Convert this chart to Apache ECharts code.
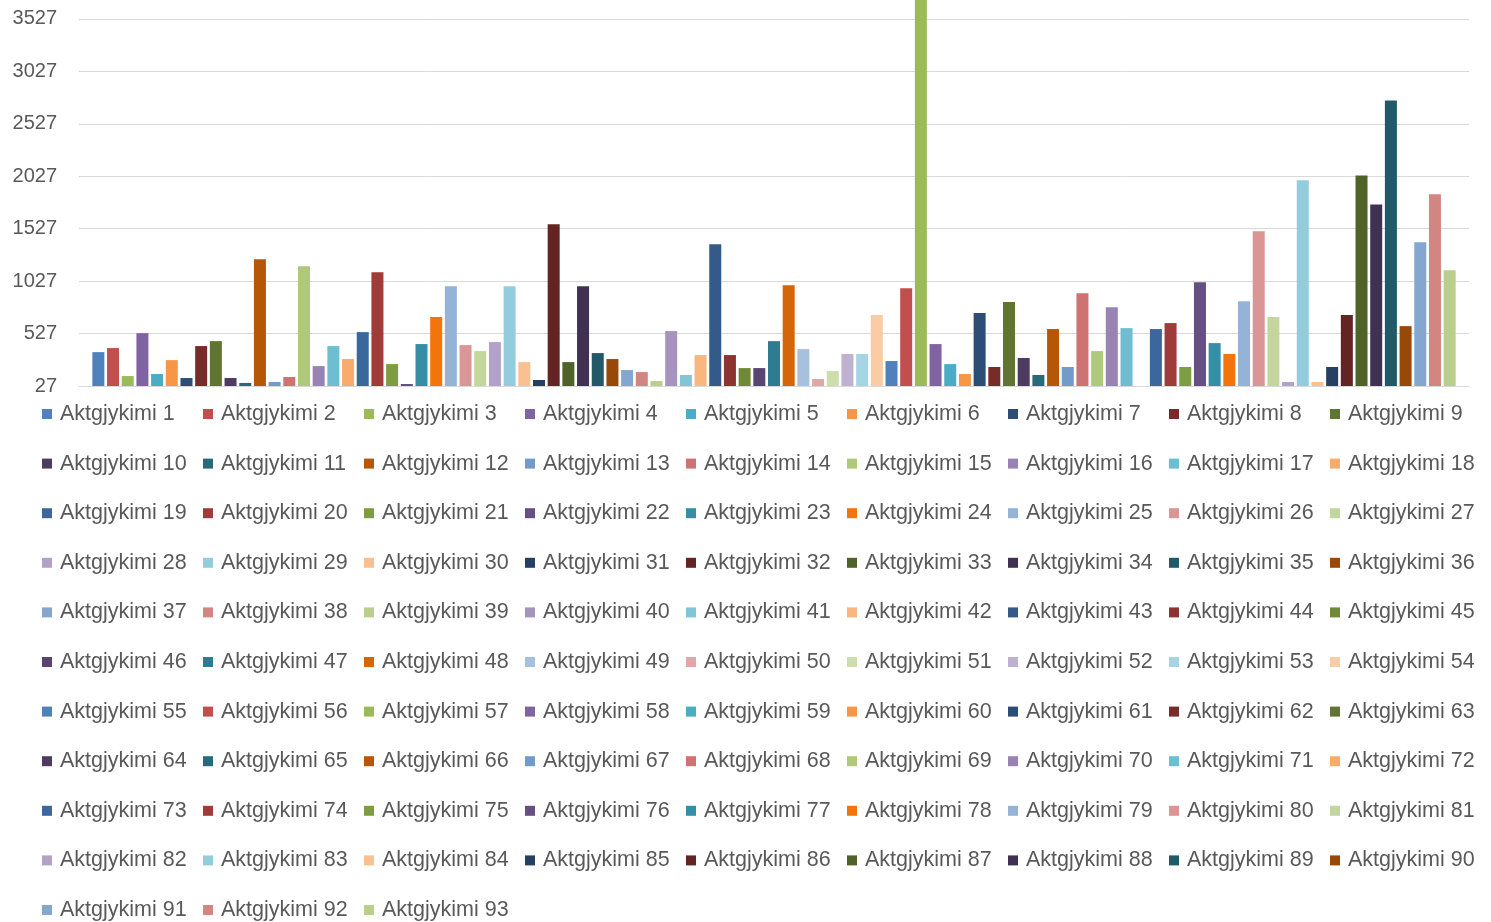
<!DOCTYPE html>
<html>
<head>
<meta charset="utf-8">
<script src="https://cdn.jsdelivr.net/npm/echarts@6/dist/echarts.min.js"></script>
<style>
html,body{margin:0;padding:0;background:#fff;}
#chart{width:1491px;height:922px;}
</style>
</head>
<body>
<div id="chart"></div>
<script>
// ---- data ----
const categories = [''];
const seriesCount = 93;
const seriesNames = [];
for (let i = 1; i <= seriesCount; i++) seriesNames.push('Aktgjykimi ' + i);
const values = [
  350, 389, 122, 531, 141, 274, 103, 408, 455, 103,
  56, 1236, 65, 113, 1169, 217, 408, 284, 541, 1112,
  236, 46, 427, 684, 979, 417, 360, 446, 979, 255,
  84, 1569, 255, 979, 341, 284, 179, 160, 75, 551,
  132, 322, 1379, 322, 198, 198, 455, 988, 379, 94,
  170, 332, 332, 703, 265, 960, 3780, 427, 236, 141,
  722, 208, 827, 294, 132, 570, 208, 912, 360, 779,
  579, 0, 570, 627, 208, 1017, 436, 332, 836, 1502,
  684, 65, 1988, 65, 208, 703, 2035, 1759, 2749, 598,
  1398, 1855, 1131
];
const yMin = 27, yMax = 3708, yInterval = 500;

// ---- colours (Office 2007 accents with luminance variants) ----
const accents = ['#4F81BD','#C0504D','#9BBB59','#8064A2','#4BACC6','#F79646'];
const lumVariants = [[1,0],[0.6,0],[0.8,0.2],[0.8,0],[0.6,0.4],[0.5,0],[0.7,0.3],[0.7,0],[0.5,0.5]];
function hexToHsl(hex){
  const r=parseInt(hex.substr(1,2),16)/255,g=parseInt(hex.substr(3,2),16)/255,b=parseInt(hex.substr(5,2),16)/255;
  const max=Math.max(r,g,b),min=Math.min(r,g,b);let h=0,s=0;const l=(max+min)/2;
  if(max!==min){const d=max-min;s=l>0.5?d/(2-max-min):d/(max+min);
    if(max===r)h=((g-b)/d+(g<b?6:0));else if(max===g)h=(b-r)/d+2;else h=(r-g)/d+4;h*=60;}
  return [h,s,l];
}
function hslToHex(h,s,l){
  const c=(1-Math.abs(2*l-1))*s,x=c*(1-Math.abs((h/60)%2-1)),m=l-c/2;let r=0,g=0,b=0;
  if(h<60){r=c;g=x;}else if(h<120){r=x;g=c;}else if(h<180){g=c;b=x;}else if(h<240){g=x;b=c;}else if(h<300){r=x;b=c;}else{r=c;b=x;}
  const t=v=>{const n=Math.round((v+m)*255);return ('0'+Math.max(0,Math.min(255,n)).toString(16)).slice(-2);};
  return '#'+t(r)+t(g)+t(b);
}
function seriesColor(i){
  const k=i%54, v=lumVariants[Math.floor(k/6)], a=accents[k%6];
  const [h,s,l]=hexToHsl(a);
  return hslToHex(h,s,Math.min(1,l*v[0]+v[1]));
}

const chart = echarts.init(document.getElementById('chart'));
const series = seriesNames.map((n,i)=>({
  type:'bar', name:n, data:[values[i]],
  itemStyle:{color:seriesColor(i)},
  barWidth:12, barGap:'22.4%',
  clip:true,
  animation:false
}));
const legends = [];
for (let c = 0; c < 9; c++){
  const d=[];
  for (let i=c;i<seriesCount;i+=9) d.push(seriesNames[i]);
  legends.push({
    orient:'vertical', left:42+161*c, top:403, height:520, padding:0,
    itemWidth:10, itemHeight:10, itemGap:27.6, icon:'rect',
    textStyle:{color:'#595959', fontSize:21.5, fontFamily:'Liberation Sans', lineHeight:22, padding:[0,0,0,3]},
    data:d
  });
}
chart.setOption({
  animation:false,
  backgroundColor:'#ffffff',
  grid:{left:79, right:22, top:0, bottom:536, containLabel:false},
  legend:legends,
  xAxis:{type:'category', data:categories, axisTick:{show:false}, axisLabel:{show:false},
    axisLine:{show:true, lineStyle:{color:'#D9D9D9', width:1}}},
  yAxis:{type:'value', min:yMin, max:yMax, interval:yInterval,
    axisLine:{show:false}, axisTick:{show:false},
    axisLabel:{color:'#595959', fontSize:20, fontFamily:'Liberation Sans', margin:22,
      showMaxLabel:false, formatter:v=>String(v)},
    splitLine:{showMaxLine:false, lineStyle:{color:'#D9D9D9', width:1}}},
  series:series
});
</script>
</body>
</html>
